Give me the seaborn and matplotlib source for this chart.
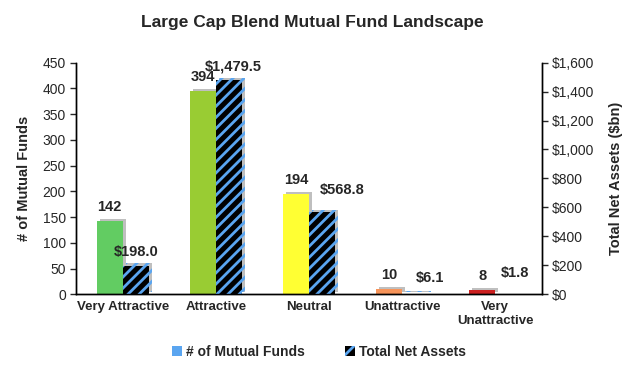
import numpy as np
import pandas as pd
import matplotlib
matplotlib.use("Agg")
import matplotlib.pyplot as plt
import matplotlib.patheffects as pe
from matplotlib.patches import Patch
from matplotlib.ticker import FuncFormatter
import seaborn as sns

categories = ["Very Attractive", "Attractive", "Neutral", "Unattractive", "Very\nUnattractive"]
num_funds = [142, 394, 194, 10, 8]
net_assets = [198.0, 1479.5, 568.8, 6.1, 1.8]
fund_colors = ["#62cc62", "#99cc33", "#ffff33", "#f7945a", "#cc2020"]
series = ["# of Mutual Funds", "Total Net Assets"]

# label nudges for the asset labels (pixels), the way Excel placed them
asset_dx = [0, 4, 20, 15, 7]
asset_dy = [14, 14, 22, 16, 21]

sns.set_style("white")
plt.rcParams["font.family"] = ["Liberation Sans", "DejaVu Sans"]
plt.rcParams["hatch.linewidth"] = 2.0
plt.rcParams["hatch.color"] = "#5aa5f0"

df = pd.DataFrame({"cat": categories, "funds": num_funds, "assets": net_assets})

fig, ax = plt.subplots(figsize=(6.3, 3.68), dpi=100)
ax2 = ax.twinx()

bw = 0.28
sns.barplot(data=df, x="cat", y="funds", hue="cat", palette=fund_colors, order=categories,
            ax=ax, width=bw, errorbar=None, legend=False, saturation=1)
sns.barplot(data=df, x="cat", y="assets", color="black", order=categories,
            ax=ax2, width=bw, errorbar=None, saturation=1)

shadow = [pe.SimplePatchShadow(offset=(2.2, 1.6), shadow_rgbFace="#b0b0b0", alpha=0.8), pe.Normal()]
px = 0.72  # points per pixel at dpi 100

for p, v in zip(ax.patches, num_funds):
    p.set_x(p.get_x() - bw / 2)
    p.set_edgecolor("none")
    p.set_path_effects(shadow)
    ax.annotate(f"{v:,}", (p.get_x() + p.get_width() / 2, v), xytext=(0, 14 * px),
                textcoords="offset points", ha="center", va="center",
                fontsize=10.5, fontweight="bold")

for p, v, dx, dy in zip(ax2.patches, net_assets, asset_dx, asset_dy):
    p.set_x(p.get_x() + bw / 2)
    p.set_facecolor("black")
    p.set_edgecolor("#5aa5f0")
    p.set_linewidth(0)
    p.set_hatch("///")
    p.set_path_effects(shadow)
    ax2.annotate(f"${v:,.1f}", (p.get_x() + p.get_width() / 2, v), xytext=(dx * px, dy * px),
                 textcoords="offset points", ha="center", va="center",
                 fontsize=10.5, fontweight="bold")

ax.set_ylim(0, 450)
ax.set_yticks(range(0, 451, 50))
ax2.set_ylim(0, 1600)
ax2.set_yticks(range(0, 1601, 200))
ax2.yaxis.set_major_formatter(FuncFormatter(lambda v, _: f"${v:,.0f}"))
ax.set_xlim(-0.5, 4.5)

ax.set_xlabel("")
ax2.set_xlabel("")
ax.set_ylabel("# of Mutual Funds", fontsize=10.5, fontweight="bold", labelpad=8)
ax2.set_ylabel("Total Net Assets ($bn)", fontsize=10.5, fontweight="bold", labelpad=10)
ax.set_xticks(range(5))
ax.set_xticklabels(categories, fontweight="bold", fontsize=9.5)
ax.set_xticks(np.arange(-0.5, 4.6, 1), minor=True)
ax.tick_params(axis="x", which="major", length=0, pad=5)
ax.tick_params(axis="x", which="minor", length=4, width=1, direction="out")
ax.tick_params(axis="y", length=4, width=1, direction="out", labelsize=10)
ax2.tick_params(axis="y", length=4, width=1, direction="out", labelsize=10)

for a in (ax, ax2):
    a.spines["top"].set_visible(False)
    for s in ("left", "right", "bottom"):
        a.spines[s].set_color("black")
        a.spines[s].set_linewidth(1)

fig.suptitle("Large Cap Blend Mutual Fund Landscape", fontsize=12.5, fontweight="bold",
             x=0.495, y=0.96)

handles = [Patch(facecolor="#5aa5f0", edgecolor="none"),
           Patch(facecolor="black", edgecolor="#5aa5f0", linewidth=0, hatch="//")]
fig.legend(handles, series, loc="lower center", ncol=2, frameon=False,
           bbox_to_anchor=(0.506, -0.01), prop={"weight": "bold", "size": 10},
           handlelength=0.7, handleheight=0.7, handletextpad=0.3, columnspacing=2.9)

fig.subplots_adjust(left=0.121, right=0.86, top=0.83, bottom=0.2)
fig.savefig("out.png", dpi=100)
